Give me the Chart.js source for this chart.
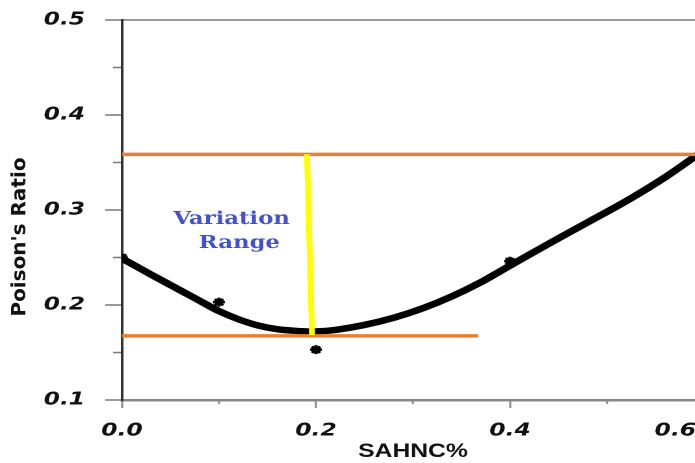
<!DOCTYPE html>
<html>
<head>
<meta charset="utf-8">
<script src="https://cdn.jsdelivr.net/npm/chart.js@4.4.0/dist/chart.umd.min.js"></script>
<style>
  html, body { margin: 0; padding: 0; background: #fff; overflow: hidden; width: 695px; height: 463px; }
  #wrap { transform: scaleX(1.3); transform-origin: 0 0; width: 560px; height: 463px; }
</style>
</head>
<body>
<div id="wrap"><canvas id="myChart" width="560" height="463"></canvas></div>
<script>
// the source figure is stretched sideways, so the canvas gets the same stretch
const stretch = 1.3;

const fitX = [0.0, 0.03, 0.06, 0.08, 0.10, 0.12, 0.14, 0.16, 0.18, 0.20, 0.22, 0.25, 0.28, 0.31, 0.34, 0.37, 0.40, 0.44, 0.48, 0.52, 0.56, 0.60];
const fitY = [0.249, 0.232, 0.2155, 0.2045, 0.1935, 0.185, 0.1785, 0.1745, 0.1727, 0.1722, 0.1738, 0.179, 0.1865, 0.1965, 0.209, 0.224, 0.2415, 0.2645, 0.287, 0.3095, 0.3345, 0.363];

const pointX = [0.0, 0.1, 0.2, 0.4];
const pointY = [0.25, 0.203, 0.153, 0.246];

const upperX = [0.0, 0.6];
const upperY = [0.3586, 0.3586];
const lowerX = [0.0, 0.367];
const lowerY = [0.1675, 0.1675];
const rangeX = [0.1907, 0.1959];
const rangeY = [0.3586, 0.1685];

const xTicks = [0.0, 0.2, 0.4, 0.6];
const xMinor = [0.1, 0.3, 0.5];
const yTicks = [0.1, 0.2, 0.3, 0.4, 0.5];
const yMinor = [0.15, 0.25, 0.35, 0.45];

const xTitle = "SAHNC%";
const yTitle = "Poison's Ratio";
const noteLines = ["Variation", "Range"];
const noteX = [0.113, 0.121];
const noteY = [0.290, 0.2646];

const zip = (xs, ys) => xs.map((x, i) => ({ x: x, y: ys[i] }));
const tickFont = { family: "DejaVu Sans", size: 18, style: "italic", weight: "bold" };

// texts the axes can't place the way the figure does
const extraText = {
  id: "extraText",
  afterDraw(chart) {
    const ctx = chart.ctx;
    const xs = chart.scales.x;
    const ys = chart.scales.y;
    ctx.save();
    ctx.textAlign = "center";
    ctx.textBaseline = "middle";

    ctx.fillStyle = "#4352c6";
    ctx.font = "bold 17.5px 'DejaVu Serif'";
    noteLines.forEach((t, i) => {
      ctx.fillText(t, xs.getPixelForValue(noteX[i]), ys.getPixelForValue(noteY[i]));
    });

    // last x label sits left of its tick in the figure
    const last = xTicks[xTicks.length - 1];
    ctx.fillStyle = "#111";
    ctx.font = "italic bold 18px 'DejaVu Sans'";
    ctx.fillText(last.toFixed(1), xs.getPixelForValue(last) - 22, 431);

    // y title, kept unstretched
    ctx.translate(15.4, 237);
    ctx.scale(1 / stretch, 1);
    ctx.rotate(-Math.PI / 2);
    ctx.font = "bold 20px 'DejaVu Sans'";
    ctx.fillText(yTitle, 0, 0);
    ctx.restore();
  }
};

const data = {
  datasets: [
    { label: "range", data: zip(rangeX, rangeY), showLine: true, borderColor: "#ffff00", borderWidth: 4.5, pointRadius: 0 },
    { label: "upper", data: zip(upperX, upperY), showLine: true, borderColor: "#ed7d31", borderWidth: 3.5, pointRadius: 0 },
    { label: "lower", data: zip(lowerX, lowerY), showLine: true, borderColor: "#ed7d31", borderWidth: 3.5, pointRadius: 0 },
    { label: "measured", data: zip(pointX, pointY), showLine: false, pointStyle: "star", pointRadius: 4.5, borderColor: "#000", backgroundColor: "#000", borderWidth: 2.5 },
    { label: "fit", data: zip(fitX, fitY), showLine: true, borderColor: "#000", borderWidth: 6.5, pointRadius: 0, tension: 0.3 },
  ],
};

const config = {
  type: "scatter",
  data: data,
  plugins: [extraText],
  options: {
    responsive: false,
    animation: false,
    devicePixelRatio: 2,
    layout: { padding: { top: 20, right: 18.5, left: 0, bottom: 0 } },
    plugins: { legend: { display: false }, tooltip: { enabled: false } },
    scales: {
      x: {
        type: "linear",
        position: "bottom",
        min: 0,
        max: 0.6,
        afterBuildTicks: (s) => { s.ticks = xTicks.map((v) => ({ value: v })); },
        afterFit: (s) => { s.height = 63; s.paddingLeft = 0; s.paddingRight = 0; },
        ticks: {
          color: "#111",
          font: tickFont,
          padding: 12,
          maxRotation: 0,
          autoSkip: false,
          callback: (v, i, t) => (i === t.length - 1 ? "" : v.toFixed(1)),
        },
        grid: { drawOnChartArea: false, tickLength: 8, tickColor: "#888", tickWidth: 1.5 },
        border: { color: "#888", width: 2.5 },
        title: { display: true, text: xTitle, color: "#111", font: { family: "Liberation Sans", size: 19, weight: "bold" }, padding: 0 },
      },
      x2: {
        type: "linear",
        position: { y: 0.1 },
        min: 0,
        max: 0.6,
        afterBuildTicks: (s) => { s.ticks = xMinor.map((v) => ({ value: v })); },
        ticks: { display: false },
        grid: { drawOnChartArea: false, tickLength: 4, tickColor: "#888", tickWidth: 1.5 },
        border: { display: false },
      },
      y: {
        type: "linear",
        position: "left",
        min: 0.1,
        max: 0.5,
        afterBuildTicks: (s) => { s.ticks = yTicks.map((v) => ({ value: v })); },
        afterFit: (s) => { s.width = 93.85; s.paddingTop = 0; s.paddingBottom = 0; },
        ticks: {
          color: "#111",
          font: tickFont,
          padding: 15.4,
          autoSkip: false,
          callback: (v) => v.toFixed(1),
        },
        grid: {
          color: (c) => (c.tick && c.tick.value === yTicks[yTicks.length - 1] ? "#999" : "rgba(0,0,0,0)"),
          lineWidth: 2,
          tickLength: 13,
          tickColor: "#777",
          tickWidth: 1.5,
        },
        border: { color: "#333", width: 2 },
      },
      y2: {
        type: "linear",
        position: { x: 0 },
        min: 0.1,
        max: 0.5,
        afterBuildTicks: (s) => { s.ticks = yMinor.map((v) => ({ value: v })); },
        ticks: { display: false },
        grid: { drawOnChartArea: false, tickLength: 7, tickColor: "#777", tickWidth: 1.5 },
        border: { display: false },
      },
    },
  },
};

const canvas = document.getElementById("myChart");
const ctx = canvas.getContext("2d");
const myChart = new Chart(ctx, config);
</script>
</body>
</html>
